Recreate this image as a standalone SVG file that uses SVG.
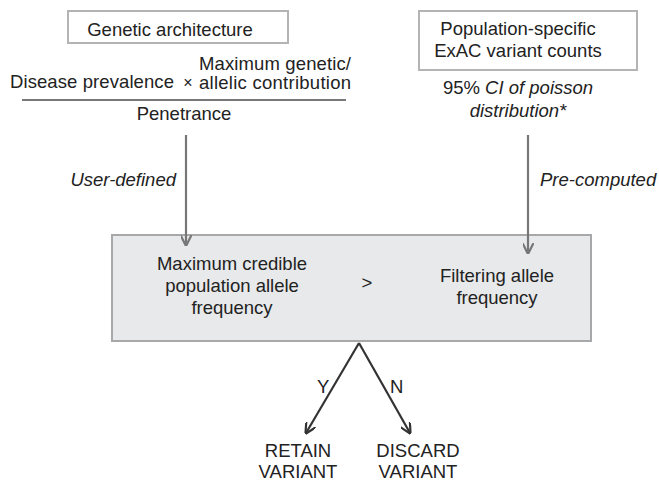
<svg xmlns="http://www.w3.org/2000/svg" width="659" height="482" viewBox="0 0 659 482">
<defs>
<style>
text{font-family:"Liberation Sans",Arial,sans-serif;font-size:18.5px;fill:#222;}
.c{text-anchor:middle;}
.i{font-style:italic;}
.box{fill:#fff;stroke:#b4b4b4;stroke-width:2;}
.big{fill:#e8e9ea;stroke:#a8a8a8;stroke-width:2;}
.g{stroke:#777;stroke-width:2.2;fill:none;}
.d{stroke:#333;stroke-width:2.2;fill:none;}
</style>
<marker id="ag" viewBox="0 0 10 10" refX="9" refY="5" markerWidth="5" markerHeight="5" orient="auto" markerUnits="strokeWidth">
<path d="M0,0 L10,5 L0,10" fill="none" stroke="#777" stroke-width="2"/>
</marker>
<marker id="ad" viewBox="0 0 10 10" refX="9" refY="5" markerWidth="5" markerHeight="5" orient="auto" markerUnits="strokeWidth">
<path d="M0,0 L10,5 L0,10" fill="none" stroke="#333" stroke-width="2"/>
</marker>
</defs>
<rect width="659" height="482" fill="#fff"/>
<g id="genetic-architecture">
<rect class="box" x="68" y="11" width="220" height="32"/>
<text class="c" x="170" y="36">Genetic architecture</text>
</g>
<g id="formula">
<text x="10" y="88" textLength="164">Disease prevalence</text>
<text class="c" x="188" y="88" style="font-size:16px">×</text>
<text x="199" y="70" textLength="152">Maximum genetic/</text>
<text x="199" y="89" textLength="152">allelic contribution</text>
<line x1="22" y1="100" x2="346" y2="100" stroke="#777" stroke-width="2.2"/>
<text class="c" x="184" y="120">Penetrance</text>
</g>
<g id="population-counts">
<rect class="box" x="419" y="11" width="218" height="59"/>
<text class="c" x="518" y="35">Population-specific</text>
<text class="c" x="518" y="57">ExAC variant counts</text>
<text class="c" x="518" y="94">95% <tspan class="i">CI of poisson</tspan></text>
<text class="c i" x="518" y="117">distribution*</text>
</g>
<g id="comparison">
<rect class="big" x="112" y="235" width="479" height="106"/>
<text class="c" x="232" y="270">Maximum credible</text>
<text class="c" x="232" y="292">population allele</text>
<text class="c" x="232" y="314">frequency</text>
<text class="c" x="367" y="289">&gt;</text>
<text class="c" x="497" y="282">Filtering allele</text>
<text class="c" x="497" y="304">frequency</text>
</g>
<g id="retain">
<text class="c" x="298" y="457">RETAIN</text>
<text class="c" x="298" y="478">VARIANT</text>
</g>
<g id="discard">
<text class="c" x="418" y="457">DISCARD</text>
<text class="c" x="418" y="478">VARIANT</text>
</g>
<g id="connectors">
<line class="g" x1="186" y1="135" x2="186" y2="245" marker-end="url(#ag)"/>
<line class="g" x1="528" y1="135" x2="528" y2="253" marker-end="url(#ag)"/>
<line class="d" x1="359" y1="343" x2="306" y2="433" marker-end="url(#ad)"/>
<line class="d" x1="359" y1="343" x2="410" y2="433" marker-end="url(#ad)"/>
<text class="i" x="176" y="186" text-anchor="end">User-defined</text>
<text class="i" x="540" y="186">Pre-computed</text>
<text x="317" y="393">Y</text>
<text x="390" y="393">N</text>
</g>
</svg>
